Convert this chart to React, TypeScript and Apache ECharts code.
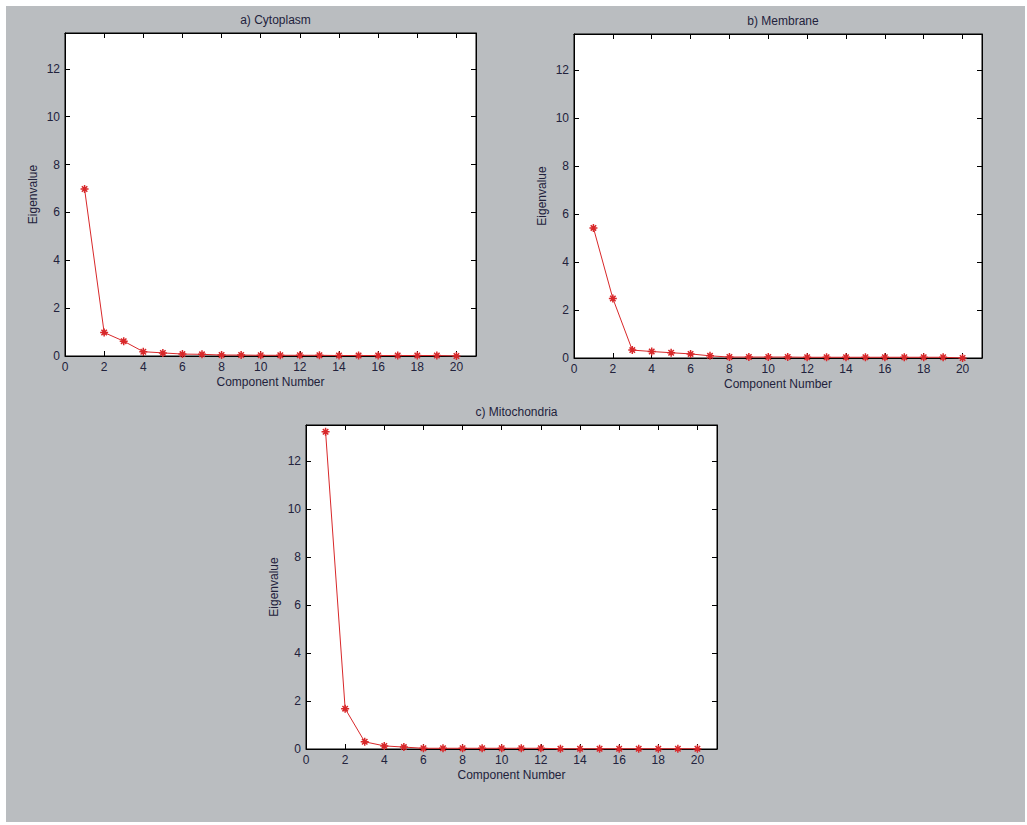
import React, { useEffect, useRef } from "react";
import * as echarts from "echarts";

const components = [1, 2, 3, 4, 5, 6, 7, 8, 9, 10, 11, 12, 13, 14, 15, 16, 17, 18, 19, 20];
const cytoplasm = [6.98, 0.98, 0.62, 0.18, 0.13, 0.08, 0.07, 0.04, 0.04, 0.03, 0.03, 0.03, 0.03, 0.02, 0.02, 0.02, 0.02, 0.02, 0.02, 0.0];
const membrane = [5.42, 2.48, 0.33, 0.27, 0.22, 0.17, 0.09, 0.04, 0.04, 0.04, 0.04, 0.03, 0.03, 0.03, 0.03, 0.03, 0.03, 0.03, 0.03, 0.0];
const mitochondria = [13.22, 1.68, 0.3, 0.13, 0.08, 0.03, 0.03, 0.03, 0.03, 0.03, 0.03, 0.03, 0.01, 0.01, 0.01, 0.01, 0.01, 0.01, 0.01, 0.01];
const titles = ["a) Cytoplasm", "b) Membrane", "c) Mitochondria"];
const xName = "Component Number";
const yName = "Eigenvalue";

const TEXT = "#22223c";
const FONT = "'Liberation Sans', Arial, sans-serif";
const RED = "#d8282a";
const STAR = "path://M0,5L10,5M5,0L5,10M1.6,1.6L8.4,8.4M8.4,1.6L1.6,8.4";

const grids = [
  { left: 65, top: 33, width: 411, height: 323 },
  { left: 574, top: 34, width: 408, height: 324 },
  { left: 306, top: 425, width: 411, height: 324 },
];

export default function App() {
  const ref = useRef<HTMLDivElement>(null);
  useEffect(() => {
    if (!ref.current) return;
    const chart = echarts.init(ref.current, undefined, { renderer: "svg" });
    const allSeries = [cytoplasm, membrane, mitochondria];
    const xAxes: any[] = [];
    const yAxes: any[] = [];
    const series: any[] = [];
    const titleOpts: any[] = [];
    grids.forEach((g, i) => {
      const common = {
        gridIndex: i,
        type: "value",
        min: 0,
        interval: 2,
        splitLine: { show: false },
        axisLine: { show: true, onZero: false, lineStyle: { color: "#000", width: 1 } },
        axisTick: { show: true, inside: true, length: 5, lineStyle: { color: "#000" } },
      };
      xAxes.push({
        ...common,
        max: 21,
        position: "bottom",
        name: xName,
        nameLocation: "middle",
        nameGap: 20,
        nameTextStyle: { color: TEXT, fontSize: 12, fontFamily: FONT },
        axisLabel: { color: TEXT, fontSize: 12, fontFamily: FONT, margin: 5, showMaxLabel: false },
      });
      xAxes.push({
        ...common,
        max: 21,
        position: "top",
        axisLabel: { show: false },
      });
      yAxes.push({
        ...common,
        max: 13.5,
        position: "left",
        name: yName,
        nameLocation: "middle",
        nameGap: 26,
        nameTextStyle: { color: TEXT, fontSize: 12, fontFamily: FONT },
        axisLabel: { color: TEXT, fontSize: 12, fontFamily: FONT, margin: 5, showMaxLabel: false },
      });
      yAxes.push({
        ...common,
        max: 13.5,
        position: "right",
        axisLabel: { show: false },
      });
      series.push({
        type: "line",
        xAxisIndex: i * 2,
        yAxisIndex: i * 2,
        data: components.map((c, k) => [c, allSeries[i][k]]),
        symbol: STAR,
        symbolSize: 8,
        lineStyle: { color: RED, width: 1 },
        itemStyle: { color: RED, borderColor: RED, borderWidth: 1.5 },
      });
      titleOpts.push({
        text: titles[i],
        left: g.left + g.width / 2,
        top: g.top - 24,
        textAlign: "center",
        textStyle: { color: TEXT, fontSize: 12, fontWeight: "normal", fontFamily: FONT },
      });
    });
    chart.setOption({
      animation: false,
      backgroundColor: "#ffffff",
      graphic: [
        {
          type: "rect",
          z: -10,
          silent: true,
          shape: { x: 6, y: 6, width: 1019, height: 816 },
          style: { fill: "#babdc0" },
        },
      ],
      title: titleOpts,
      grid: grids.map((g) => ({
        ...g,
        show: true,
        backgroundColor: "#ffffff",
        borderColor: "#000",
        borderWidth: 1,
      })),
      xAxis: xAxes,
      yAxis: yAxes,
      series,
    });
    return () => chart.dispose();
  }, []);
  return (
    <div
      ref={ref}
      style={{ position: "fixed", left: 0, top: 0, width: 1027, height: 825 }}
    />
  );
}
